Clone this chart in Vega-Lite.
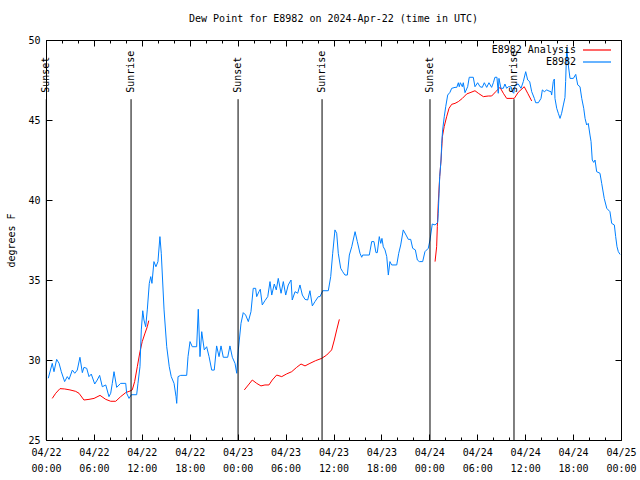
{
 "$schema": "https://vega.github.io/schema/vega-lite/v6.json",
 "width": 575,
 "height": 400,
 "autosize": "none",
 "padding": {"left": 46, "top": 40, "right": 19, "bottom": 40},
 "background": "white",
 "title": {"text": "Dew Point for E8982 on 2024-Apr-22 (time in UTC)", "font": "DejaVu Sans Mono", "fontSize": 10, "fontWeight": "normal", "offset": 11, "anchor": "middle", "color": "black"},
 "config": {
  "view": {"stroke": "black", "strokeWidth": 1},
  "axis": {"labelFont": "DejaVu Sans Mono", "labelFontSize": 10, "titleFont": "DejaVu Sans Mono", "titleFontSize": 10, "titleFontWeight": "normal", "labelColor": "black", "titleColor": "black", "tickColor": "black", "domainColor": "black", "grid": false, "domain": false}
 },
 "datasets": {
  "obs": [
   {"t":"2024-04-22T00:47:00Z","v":27.6,"series":"E8982 Analysis","seg":1},
   {"t":"2024-04-22T01:13:00Z","v":27.92,"series":"E8982 Analysis","seg":1},
   {"t":"2024-04-22T01:45:00Z","v":28.21,"series":"E8982 Analysis","seg":1},
   {"t":"2024-04-22T02:20:00Z","v":28.19,"series":"E8982 Analysis","seg":1},
   {"t":"2024-04-22T03:00:00Z","v":28.13,"series":"E8982 Analysis","seg":1},
   {"t":"2024-04-22T03:43:00Z","v":28.04,"series":"E8982 Analysis","seg":1},
   {"t":"2024-04-22T04:08:00Z","v":27.92,"series":"E8982 Analysis","seg":1},
   {"t":"2024-04-22T04:45:00Z","v":27.5,"series":"E8982 Analysis","seg":1},
   {"t":"2024-04-22T05:23:00Z","v":27.54,"series":"E8982 Analysis","seg":1},
   {"t":"2024-04-22T06:01:00Z","v":27.6,"series":"E8982 Analysis","seg":1},
   {"t":"2024-04-22T06:46:00Z","v":27.79,"series":"E8982 Analysis","seg":1},
   {"t":"2024-04-22T07:29:00Z","v":27.54,"series":"E8982 Analysis","seg":1},
   {"t":"2024-04-22T08:06:00Z","v":27.42,"series":"E8982 Analysis","seg":1},
   {"t":"2024-04-22T08:44:00Z","v":27.42,"series":"E8982 Analysis","seg":1},
   {"t":"2024-04-22T09:21:00Z","v":27.71,"series":"E8982 Analysis","seg":1},
   {"t":"2024-04-22T09:59:00Z","v":27.96,"series":"E8982 Analysis","seg":1},
   {"t":"2024-04-22T10:31:00Z","v":28.06,"series":"E8982 Analysis","seg":1},
   {"t":"2024-04-22T10:48:00Z","v":28.13,"series":"E8982 Analysis","seg":1},
   {"t":"2024-04-22T11:06:00Z","v":28.65,"series":"E8982 Analysis","seg":1},
   {"t":"2024-04-22T11:26:00Z","v":29.58,"series":"E8982 Analysis","seg":1},
   {"t":"2024-04-22T11:46:00Z","v":30.52,"series":"E8982 Analysis","seg":1},
   {"t":"2024-04-22T12:03:00Z","v":31.15,"series":"E8982 Analysis","seg":1},
   {"t":"2024-04-22T12:22:00Z","v":31.63,"series":"E8982 Analysis","seg":1},
   {"t":"2024-04-22T12:41:00Z","v":32.08,"series":"E8982 Analysis","seg":1},
   {"t":"2024-04-22T12:52:00Z","v":32.46,"series":"E8982 Analysis","seg":1},
   {"t":"2024-04-23T00:50:00Z","v":28.13,"series":"E8982 Analysis","seg":2},
   {"t":"2024-04-23T01:20:00Z","v":28.44,"series":"E8982 Analysis","seg":2},
   {"t":"2024-04-23T01:50:00Z","v":28.75,"series":"E8982 Analysis","seg":2},
   {"t":"2024-04-23T02:23:00Z","v":28.54,"series":"E8982 Analysis","seg":2},
   {"t":"2024-04-23T02:55:00Z","v":28.38,"series":"E8982 Analysis","seg":2},
   {"t":"2024-04-23T03:25:00Z","v":28.44,"series":"E8982 Analysis","seg":2},
   {"t":"2024-04-23T03:55:00Z","v":28.44,"series":"E8982 Analysis","seg":2},
   {"t":"2024-04-23T04:20:00Z","v":28.75,"series":"E8982 Analysis","seg":2},
   {"t":"2024-04-23T04:53:00Z","v":29.06,"series":"E8982 Analysis","seg":2},
   {"t":"2024-04-23T05:31:00Z","v":28.96,"series":"E8982 Analysis","seg":2},
   {"t":"2024-04-23T06:08:00Z","v":29.13,"series":"E8982 Analysis","seg":2},
   {"t":"2024-04-23T06:46:00Z","v":29.27,"series":"E8982 Analysis","seg":2},
   {"t":"2024-04-23T07:23:00Z","v":29.54,"series":"E8982 Analysis","seg":2},
   {"t":"2024-04-23T07:56:00Z","v":29.75,"series":"E8982 Analysis","seg":2},
   {"t":"2024-04-23T08:26:00Z","v":29.63,"series":"E8982 Analysis","seg":2},
   {"t":"2024-04-23T09:03:00Z","v":29.79,"series":"E8982 Analysis","seg":2},
   {"t":"2024-04-23T09:46:00Z","v":29.96,"series":"E8982 Analysis","seg":2},
   {"t":"2024-04-23T10:31:00Z","v":30.1,"series":"E8982 Analysis","seg":2},
   {"t":"2024-04-23T11:09:00Z","v":30.31,"series":"E8982 Analysis","seg":2},
   {"t":"2024-04-23T11:46:00Z","v":30.63,"series":"E8982 Analysis","seg":2},
   {"t":"2024-04-23T12:06:00Z","v":31.25,"series":"E8982 Analysis","seg":2},
   {"t":"2024-04-23T12:24:00Z","v":31.88,"series":"E8982 Analysis","seg":2},
   {"t":"2024-04-23T12:44:00Z","v":32.54,"series":"E8982 Analysis","seg":2},
   {"t":"2024-04-24T00:43:00Z","v":36.15,"series":"E8982 Analysis","seg":3},
   {"t":"2024-04-24T00:55:00Z","v":37.08,"series":"E8982 Analysis","seg":3},
   {"t":"2024-04-24T01:00:00Z","v":38.33,"series":"E8982 Analysis","seg":3},
   {"t":"2024-04-24T01:07:00Z","v":39.79,"series":"E8982 Analysis","seg":3},
   {"t":"2024-04-24T01:18:00Z","v":41.46,"series":"E8982 Analysis","seg":3},
   {"t":"2024-04-24T01:28:00Z","v":42.5,"series":"E8982 Analysis","seg":3},
   {"t":"2024-04-24T01:38:00Z","v":43.96,"series":"E8982 Analysis","seg":3},
   {"t":"2024-04-24T01:52:00Z","v":44.6,"series":"E8982 Analysis","seg":3},
   {"t":"2024-04-24T02:10:00Z","v":45.2,"series":"E8982 Analysis","seg":3},
   {"t":"2024-04-24T02:28:00Z","v":45.73,"series":"E8982 Analysis","seg":3},
   {"t":"2024-04-24T02:48:00Z","v":45.98,"series":"E8982 Analysis","seg":3},
   {"t":"2024-04-24T03:13:00Z","v":46.04,"series":"E8982 Analysis","seg":3},
   {"t":"2024-04-24T03:38:00Z","v":46.15,"series":"E8982 Analysis","seg":3},
   {"t":"2024-04-24T04:08:00Z","v":46.35,"series":"E8982 Analysis","seg":3},
   {"t":"2024-04-24T04:41:00Z","v":46.63,"series":"E8982 Analysis","seg":3},
   {"t":"2024-04-24T05:13:00Z","v":46.73,"series":"E8982 Analysis","seg":3},
   {"t":"2024-04-24T05:43:00Z","v":46.83,"series":"E8982 Analysis","seg":3},
   {"t":"2024-04-24T06:08:00Z","v":46.67,"series":"E8982 Analysis","seg":3},
   {"t":"2024-04-24T06:46:00Z","v":46.46,"series":"E8982 Analysis","seg":3},
   {"t":"2024-04-24T07:23:00Z","v":46.5,"series":"E8982 Analysis","seg":3},
   {"t":"2024-04-24T07:48:00Z","v":46.5,"series":"E8982 Analysis","seg":3},
   {"t":"2024-04-24T08:19:00Z","v":46.77,"series":"E8982 Analysis","seg":3},
   {"t":"2024-04-24T08:51:00Z","v":47.04,"series":"E8982 Analysis","seg":3},
   {"t":"2024-04-24T09:16:00Z","v":46.67,"series":"E8982 Analysis","seg":3},
   {"t":"2024-04-24T09:41:00Z","v":46.35,"series":"E8982 Analysis","seg":3},
   {"t":"2024-04-24T10:23:00Z","v":46.35,"series":"E8982 Analysis","seg":3},
   {"t":"2024-04-24T10:38:00Z","v":46.35,"series":"E8982 Analysis","seg":3},
   {"t":"2024-04-24T11:08:00Z","v":46.73,"series":"E8982 Analysis","seg":3},
   {"t":"2024-04-24T11:53:00Z","v":47.08,"series":"E8982 Analysis","seg":3},
   {"t":"2024-04-24T12:19:00Z","v":46.67,"series":"E8982 Analysis","seg":3},
   {"t":"2024-04-24T12:49:00Z","v":46.19,"series":"E8982 Analysis","seg":3},
   {"t":"2024-04-22T00:17:00Z","v":28.86,"series":"E8982","seg":0},
   {"t":"2024-04-22T00:47:00Z","v":29.79,"series":"E8982","seg":0},
   {"t":"2024-04-22T01:00:00Z","v":29.27,"series":"E8982","seg":0},
   {"t":"2024-04-22T01:20:00Z","v":30.04,"series":"E8982","seg":0},
   {"t":"2024-04-22T01:38:00Z","v":29.8,"series":"E8982","seg":0},
   {"t":"2024-04-22T01:55:00Z","v":29.27,"series":"E8982","seg":0},
   {"t":"2024-04-22T02:20:00Z","v":28.65,"series":"E8982","seg":0},
   {"t":"2024-04-22T02:40:00Z","v":28.96,"series":"E8982","seg":0},
   {"t":"2024-04-22T02:53:00Z","v":28.79,"series":"E8982","seg":0},
   {"t":"2024-04-22T03:18:00Z","v":29.37,"series":"E8982","seg":0},
   {"t":"2024-04-22T03:36:00Z","v":29.17,"series":"E8982","seg":0},
   {"t":"2024-04-22T03:55:00Z","v":29.37,"series":"E8982","seg":0},
   {"t":"2024-04-22T04:15:00Z","v":30.17,"series":"E8982","seg":0},
   {"t":"2024-04-22T04:33:00Z","v":29.21,"series":"E8982","seg":0},
   {"t":"2024-04-22T04:45:00Z","v":29.54,"series":"E8982","seg":0},
   {"t":"2024-04-22T05:06:00Z","v":29.48,"series":"E8982","seg":0},
   {"t":"2024-04-22T05:23:00Z","v":28.96,"series":"E8982","seg":0},
   {"t":"2024-04-22T05:40:00Z","v":29.12,"series":"E8982","seg":0},
   {"t":"2024-04-22T06:06:00Z","v":28.5,"series":"E8982","seg":0},
   {"t":"2024-04-22T06:25:00Z","v":28.75,"series":"E8982","seg":0},
   {"t":"2024-04-22T06:43:00Z","v":29.04,"series":"E8982","seg":0},
   {"t":"2024-04-22T07:03:00Z","v":28.33,"series":"E8982","seg":0},
   {"t":"2024-04-22T07:29:00Z","v":28.44,"series":"E8982","seg":0},
   {"t":"2024-04-22T07:53:00Z","v":27.71,"series":"E8982","seg":0},
   {"t":"2024-04-22T08:06:00Z","v":27.92,"series":"E8982","seg":0},
   {"t":"2024-04-22T08:18:00Z","v":28.54,"series":"E8982","seg":0},
   {"t":"2024-04-22T08:31:00Z","v":29.27,"series":"E8982","seg":0},
   {"t":"2024-04-22T08:51:00Z","v":28.29,"series":"E8982","seg":0},
   {"t":"2024-04-22T09:21:00Z","v":28.54,"series":"E8982","seg":0},
   {"t":"2024-04-22T09:59:00Z","v":28.54,"series":"E8982","seg":0},
   {"t":"2024-04-22T10:06:00Z","v":27.92,"series":"E8982","seg":0},
   {"t":"2024-04-22T10:24:00Z","v":27.6,"series":"E8982","seg":0},
   {"t":"2024-04-22T10:41:00Z","v":27.83,"series":"E8982","seg":0},
   {"t":"2024-04-22T11:21:00Z","v":27.83,"series":"E8982","seg":0},
   {"t":"2024-04-22T11:31:00Z","v":28.54,"series":"E8982","seg":0},
   {"t":"2024-04-22T11:46:00Z","v":29.58,"series":"E8982","seg":0},
   {"t":"2024-04-22T11:56:00Z","v":31.88,"series":"E8982","seg":0},
   {"t":"2024-04-22T12:07:00Z","v":33.08,"series":"E8982","seg":0},
   {"t":"2024-04-22T12:16:00Z","v":32.5,"series":"E8982","seg":0},
   {"t":"2024-04-22T12:29:00Z","v":32.08,"series":"E8982","seg":0},
   {"t":"2024-04-22T12:41:00Z","v":33.13,"series":"E8982","seg":0},
   {"t":"2024-04-22T12:56:00Z","v":34.79,"series":"E8982","seg":0},
   {"t":"2024-04-22T13:07:00Z","v":35.21,"series":"E8982","seg":0},
   {"t":"2024-04-22T13:16:00Z","v":34.79,"series":"E8982","seg":0},
   {"t":"2024-04-22T13:31:00Z","v":36.15,"series":"E8982","seg":0},
   {"t":"2024-04-22T13:46:00Z","v":35.83,"series":"E8982","seg":0},
   {"t":"2024-04-22T14:01:00Z","v":36.15,"series":"E8982","seg":0},
   {"t":"2024-04-22T14:16:00Z","v":37.71,"series":"E8982","seg":0},
   {"t":"2024-04-22T14:26:00Z","v":36.67,"series":"E8982","seg":0},
   {"t":"2024-04-22T14:47:00Z","v":33.13,"series":"E8982","seg":0},
   {"t":"2024-04-22T15:07:00Z","v":30.83,"series":"E8982","seg":0},
   {"t":"2024-04-22T15:26:00Z","v":29.58,"series":"E8982","seg":0},
   {"t":"2024-04-22T15:41:00Z","v":28.96,"series":"E8982","seg":0},
   {"t":"2024-04-22T16:02:00Z","v":28.54,"series":"E8982","seg":0},
   {"t":"2024-04-22T16:17:00Z","v":27.71,"series":"E8982","seg":0},
   {"t":"2024-04-22T16:22:00Z","v":27.29,"series":"E8982","seg":0},
   {"t":"2024-04-22T16:32:00Z","v":28.96,"series":"E8982","seg":0},
   {"t":"2024-04-22T16:52:00Z","v":29.04,"series":"E8982","seg":0},
   {"t":"2024-04-22T17:37:00Z","v":29.04,"series":"E8982","seg":0},
   {"t":"2024-04-22T17:47:00Z","v":30.21,"series":"E8982","seg":0},
   {"t":"2024-04-22T18:02:00Z","v":31.15,"series":"E8982","seg":0},
   {"t":"2024-04-22T18:19:00Z","v":30.83,"series":"E8982","seg":0},
   {"t":"2024-04-22T18:52:00Z","v":30.83,"series":"E8982","seg":0},
   {"t":"2024-04-22T19:04:00Z","v":33.17,"series":"E8982","seg":0},
   {"t":"2024-04-22T19:17:00Z","v":30.21,"series":"E8982","seg":0},
   {"t":"2024-04-22T19:30:00Z","v":31.77,"series":"E8982","seg":0},
   {"t":"2024-04-22T19:49:00Z","v":30.63,"series":"E8982","seg":0},
   {"t":"2024-04-22T20:07:00Z","v":30.83,"series":"E8982","seg":0},
   {"t":"2024-04-22T20:25:00Z","v":30.21,"series":"E8982","seg":0},
   {"t":"2024-04-22T20:45:00Z","v":29.37,"series":"E8982","seg":0},
   {"t":"2024-04-22T21:04:00Z","v":29.37,"series":"E8982","seg":0},
   {"t":"2024-04-22T21:22:00Z","v":30.88,"series":"E8982","seg":0},
   {"t":"2024-04-22T21:40:00Z","v":30.21,"series":"E8982","seg":0},
   {"t":"2024-04-22T21:55:00Z","v":30.88,"series":"E8982","seg":0},
   {"t":"2024-04-22T22:12:00Z","v":30.17,"series":"E8982","seg":0},
   {"t":"2024-04-22T22:45:00Z","v":30.17,"series":"E8982","seg":0},
   {"t":"2024-04-22T23:02:00Z","v":30.88,"series":"E8982","seg":0},
   {"t":"2024-04-22T23:20:00Z","v":30.17,"series":"E8982","seg":0},
   {"t":"2024-04-22T23:40:00Z","v":29.79,"series":"E8982","seg":0},
   {"t":"2024-04-22T23:53:00Z","v":29.17,"series":"E8982","seg":0},
   {"t":"2024-04-23T00:05:00Z","v":30.63,"series":"E8982","seg":0},
   {"t":"2024-04-23T00:25:00Z","v":32.29,"series":"E8982","seg":0},
   {"t":"2024-04-23T00:42:00Z","v":32.96,"series":"E8982","seg":0},
   {"t":"2024-04-23T01:00:00Z","v":32.81,"series":"E8982","seg":0},
   {"t":"2024-04-23T01:20:00Z","v":32.4,"series":"E8982","seg":0},
   {"t":"2024-04-23T01:40:00Z","v":33.02,"series":"E8982","seg":0},
   {"t":"2024-04-23T01:57:00Z","v":34.48,"series":"E8982","seg":0},
   {"t":"2024-04-23T02:15:00Z","v":34.48,"series":"E8982","seg":0},
   {"t":"2024-04-23T02:23:00Z","v":33.96,"series":"E8982","seg":0},
   {"t":"2024-04-23T02:40:00Z","v":34.27,"series":"E8982","seg":0},
   {"t":"2024-04-23T02:50:00Z","v":34.42,"series":"E8982","seg":0},
   {"t":"2024-04-23T03:05:00Z","v":33.44,"series":"E8982","seg":0},
   {"t":"2024-04-23T03:25:00Z","v":33.71,"series":"E8982","seg":0},
   {"t":"2024-04-23T03:46:00Z","v":33.96,"series":"E8982","seg":0},
   {"t":"2024-04-23T04:03:00Z","v":34.9,"series":"E8982","seg":0},
   {"t":"2024-04-23T04:16:00Z","v":34.06,"series":"E8982","seg":0},
   {"t":"2024-04-23T04:35:00Z","v":34.75,"series":"E8982","seg":0},
   {"t":"2024-04-23T04:50:00Z","v":34.38,"series":"E8982","seg":0},
   {"t":"2024-04-23T05:05:00Z","v":35.1,"series":"E8982","seg":0},
   {"t":"2024-04-23T05:26:00Z","v":34.17,"series":"E8982","seg":0},
   {"t":"2024-04-23T05:43:00Z","v":34.9,"series":"E8982","seg":0},
   {"t":"2024-04-23T06:01:00Z","v":34.06,"series":"E8982","seg":0},
   {"t":"2024-04-23T06:20:00Z","v":34.69,"series":"E8982","seg":0},
   {"t":"2024-04-23T06:41:00Z","v":35.0,"series":"E8982","seg":0},
   {"t":"2024-04-23T06:50:00Z","v":33.75,"series":"E8982","seg":0},
   {"t":"2024-04-23T07:11:00Z","v":34.27,"series":"E8982","seg":0},
   {"t":"2024-04-23T07:31:00Z","v":34.17,"series":"E8982","seg":0},
   {"t":"2024-04-23T07:48:00Z","v":34.69,"series":"E8982","seg":0},
   {"t":"2024-04-23T08:06:00Z","v":34.06,"series":"E8982","seg":0},
   {"t":"2024-04-23T08:26:00Z","v":33.79,"series":"E8982","seg":0},
   {"t":"2024-04-23T08:46:00Z","v":33.75,"series":"E8982","seg":0},
   {"t":"2024-04-23T09:03:00Z","v":34.33,"series":"E8982","seg":0},
   {"t":"2024-04-23T09:21:00Z","v":33.38,"series":"E8982","seg":0},
   {"t":"2024-04-23T09:41:00Z","v":33.65,"series":"E8982","seg":0},
   {"t":"2024-04-23T10:06:00Z","v":33.96,"series":"E8982","seg":0},
   {"t":"2024-04-23T10:19:00Z","v":33.96,"series":"E8982","seg":0},
   {"t":"2024-04-23T10:39:00Z","v":34.33,"series":"E8982","seg":0},
   {"t":"2024-04-23T11:21:00Z","v":34.33,"series":"E8982","seg":0},
   {"t":"2024-04-23T11:39:00Z","v":35.21,"series":"E8982","seg":0},
   {"t":"2024-04-23T11:54:00Z","v":36.67,"series":"E8982","seg":0},
   {"t":"2024-04-23T12:11:00Z","v":38.13,"series":"E8982","seg":0},
   {"t":"2024-04-23T12:24:00Z","v":37.92,"series":"E8982","seg":0},
   {"t":"2024-04-23T12:36:00Z","v":36.67,"series":"E8982","seg":0},
   {"t":"2024-04-23T12:54:00Z","v":35.73,"series":"E8982","seg":0},
   {"t":"2024-04-23T13:09:00Z","v":35.52,"series":"E8982","seg":0},
   {"t":"2024-04-23T13:26:00Z","v":35.31,"series":"E8982","seg":0},
   {"t":"2024-04-23T13:44:00Z","v":35.31,"series":"E8982","seg":0},
   {"t":"2024-04-23T13:59:00Z","v":36.56,"series":"E8982","seg":0},
   {"t":"2024-04-23T14:17:00Z","v":37.08,"series":"E8982","seg":0},
   {"t":"2024-04-23T14:42:00Z","v":38.02,"series":"E8982","seg":0},
   {"t":"2024-04-23T14:59:00Z","v":37.4,"series":"E8982","seg":0},
   {"t":"2024-04-23T15:19:00Z","v":36.67,"series":"E8982","seg":0},
   {"t":"2024-04-23T15:32:00Z","v":36.42,"series":"E8982","seg":0},
   {"t":"2024-04-23T15:39:00Z","v":36.56,"series":"E8982","seg":0},
   {"t":"2024-04-23T16:29:00Z","v":36.56,"series":"E8982","seg":0},
   {"t":"2024-04-23T16:47:00Z","v":37.4,"series":"E8982","seg":0},
   {"t":"2024-04-23T17:04:00Z","v":37.4,"series":"E8982","seg":0},
   {"t":"2024-04-23T17:19:00Z","v":36.71,"series":"E8982","seg":0},
   {"t":"2024-04-23T17:29:00Z","v":36.71,"series":"E8982","seg":0},
   {"t":"2024-04-23T17:44:00Z","v":37.71,"series":"E8982","seg":0},
   {"t":"2024-04-23T17:55:00Z","v":37.29,"series":"E8982","seg":0},
   {"t":"2024-04-23T18:04:00Z","v":37.6,"series":"E8982","seg":0},
   {"t":"2024-04-23T18:14:00Z","v":37.08,"series":"E8982","seg":0},
   {"t":"2024-04-23T18:27:00Z","v":36.88,"series":"E8982","seg":0},
   {"t":"2024-04-23T18:40:00Z","v":36.46,"series":"E8982","seg":0},
   {"t":"2024-04-23T18:52:00Z","v":35.31,"series":"E8982","seg":0},
   {"t":"2024-04-23T19:04:00Z","v":36.15,"series":"E8982","seg":0},
   {"t":"2024-04-23T19:17:00Z","v":35.94,"series":"E8982","seg":0},
   {"t":"2024-04-23T19:55:00Z","v":35.94,"series":"E8982","seg":0},
   {"t":"2024-04-23T20:10:00Z","v":36.67,"series":"E8982","seg":0},
   {"t":"2024-04-23T20:25:00Z","v":37.19,"series":"E8982","seg":0},
   {"t":"2024-04-23T20:44:00Z","v":38.13,"series":"E8982","seg":0},
   {"t":"2024-04-23T21:05:00Z","v":37.81,"series":"E8982","seg":0},
   {"t":"2024-04-23T21:22:00Z","v":37.54,"series":"E8982","seg":0},
   {"t":"2024-04-23T21:40:00Z","v":37.54,"series":"E8982","seg":0},
   {"t":"2024-04-23T21:55:00Z","v":36.98,"series":"E8982","seg":0},
   {"t":"2024-04-23T22:15:00Z","v":36.88,"series":"E8982","seg":0},
   {"t":"2024-04-23T22:30:00Z","v":36.25,"series":"E8982","seg":0},
   {"t":"2024-04-23T22:45:00Z","v":36.15,"series":"E8982","seg":0},
   {"t":"2024-04-23T23:10:00Z","v":36.15,"series":"E8982","seg":0},
   {"t":"2024-04-23T23:27:00Z","v":36.77,"series":"E8982","seg":0},
   {"t":"2024-04-23T23:52:00Z","v":36.98,"series":"E8982","seg":0},
   {"t":"2024-04-24T00:05:00Z","v":37.5,"series":"E8982","seg":0},
   {"t":"2024-04-24T00:22:00Z","v":38.5,"series":"E8982","seg":0},
   {"t":"2024-04-24T00:43:00Z","v":38.44,"series":"E8982","seg":0},
   {"t":"2024-04-24T01:03:00Z","v":38.6,"series":"E8982","seg":0},
   {"t":"2024-04-24T01:07:00Z","v":39.17,"series":"E8982","seg":0},
   {"t":"2024-04-24T01:13:00Z","v":40.42,"series":"E8982","seg":0},
   {"t":"2024-04-24T01:18:00Z","v":41.46,"series":"E8982","seg":0},
   {"t":"2024-04-24T01:28:00Z","v":42.5,"series":"E8982","seg":0},
   {"t":"2024-04-24T01:33:00Z","v":43.54,"series":"E8982","seg":0},
   {"t":"2024-04-24T01:40:00Z","v":44.38,"series":"E8982","seg":0},
   {"t":"2024-04-24T01:52:00Z","v":45.2,"series":"E8982","seg":0},
   {"t":"2024-04-24T02:03:00Z","v":45.83,"series":"E8982","seg":0},
   {"t":"2024-04-24T02:18:00Z","v":46.56,"series":"E8982","seg":0},
   {"t":"2024-04-24T02:35:00Z","v":46.73,"series":"E8982","seg":0},
   {"t":"2024-04-24T02:48:00Z","v":46.98,"series":"E8982","seg":0},
   {"t":"2024-04-24T03:13:00Z","v":47.04,"series":"E8982","seg":0},
   {"t":"2024-04-24T03:26:00Z","v":47.04,"series":"E8982","seg":0},
   {"t":"2024-04-24T03:38:00Z","v":47.33,"series":"E8982","seg":0},
   {"t":"2024-04-24T03:45:00Z","v":47.08,"series":"E8982","seg":0},
   {"t":"2024-04-24T03:53:00Z","v":47.33,"series":"E8982","seg":0},
   {"t":"2024-04-24T04:08:00Z","v":47.08,"series":"E8982","seg":0},
   {"t":"2024-04-24T04:15:00Z","v":47.33,"series":"E8982","seg":0},
   {"t":"2024-04-24T04:28:00Z","v":46.71,"series":"E8982","seg":0},
   {"t":"2024-04-24T04:48:00Z","v":47.08,"series":"E8982","seg":0},
   {"t":"2024-04-24T05:00:00Z","v":47.67,"series":"E8982","seg":0},
   {"t":"2024-04-24T05:30:00Z","v":47.67,"series":"E8982","seg":0},
   {"t":"2024-04-24T05:43:00Z","v":47.08,"series":"E8982","seg":0},
   {"t":"2024-04-24T06:03:00Z","v":47.33,"series":"E8982","seg":0},
   {"t":"2024-04-24T06:21:00Z","v":47.08,"series":"E8982","seg":0},
   {"t":"2024-04-24T06:38:00Z","v":47.04,"series":"E8982","seg":0},
   {"t":"2024-04-24T06:53:00Z","v":47.33,"series":"E8982","seg":0},
   {"t":"2024-04-24T07:11:00Z","v":47.04,"series":"E8982","seg":0},
   {"t":"2024-04-24T07:28:00Z","v":47.33,"series":"E8982","seg":0},
   {"t":"2024-04-24T07:48:00Z","v":47.04,"series":"E8982","seg":0},
   {"t":"2024-04-24T08:01:00Z","v":47.33,"series":"E8982","seg":0},
   {"t":"2024-04-24T08:13:00Z","v":47.67,"series":"E8982","seg":0},
   {"t":"2024-04-24T08:28:00Z","v":47.67,"series":"E8982","seg":0},
   {"t":"2024-04-24T08:38:00Z","v":46.67,"series":"E8982","seg":0},
   {"t":"2024-04-24T08:43:00Z","v":47.6,"series":"E8982","seg":0},
   {"t":"2024-04-24T08:58:00Z","v":46.98,"series":"E8982","seg":0},
   {"t":"2024-04-24T09:16:00Z","v":46.98,"series":"E8982","seg":0},
   {"t":"2024-04-24T09:28:00Z","v":47.25,"series":"E8982","seg":0},
   {"t":"2024-04-24T09:41:00Z","v":46.98,"series":"E8982","seg":0},
   {"t":"2024-04-24T09:53:00Z","v":47.08,"series":"E8982","seg":0},
   {"t":"2024-04-24T10:14:00Z","v":47.08,"series":"E8982","seg":0},
   {"t":"2024-04-24T10:23:00Z","v":46.77,"series":"E8982","seg":0},
   {"t":"2024-04-24T10:34:00Z","v":46.67,"series":"E8982","seg":0},
   {"t":"2024-04-24T10:44:00Z","v":47.19,"series":"E8982","seg":0},
   {"t":"2024-04-24T11:08:00Z","v":47.25,"series":"E8982","seg":0},
   {"t":"2024-04-24T11:29:00Z","v":46.98,"series":"E8982","seg":0},
   {"t":"2024-04-24T11:46:00Z","v":47.4,"series":"E8982","seg":0},
   {"t":"2024-04-24T12:04:00Z","v":48.02,"series":"E8982","seg":0},
   {"t":"2024-04-24T12:19:00Z","v":47.5,"series":"E8982","seg":0},
   {"t":"2024-04-24T12:34:00Z","v":47.4,"series":"E8982","seg":0},
   {"t":"2024-04-24T12:49:00Z","v":46.77,"series":"E8982","seg":0},
   {"t":"2024-04-24T13:09:00Z","v":46.35,"series":"E8982","seg":0},
   {"t":"2024-04-24T13:19:00Z","v":46.08,"series":"E8982","seg":0},
   {"t":"2024-04-24T13:39:00Z","v":46.08,"series":"E8982","seg":0},
   {"t":"2024-04-24T13:59:00Z","v":46.35,"series":"E8982","seg":0},
   {"t":"2024-04-24T14:09:00Z","v":46.88,"series":"E8982","seg":0},
   {"t":"2024-04-24T14:24:00Z","v":46.77,"series":"E8982","seg":0},
   {"t":"2024-04-24T14:42:00Z","v":46.88,"series":"E8982","seg":0},
   {"t":"2024-04-24T14:59:00Z","v":46.81,"series":"E8982","seg":0},
   {"t":"2024-04-24T15:14:00Z","v":46.77,"series":"E8982","seg":0},
   {"t":"2024-04-24T15:19:00Z","v":46.56,"series":"E8982","seg":0},
   {"t":"2024-04-24T15:31:00Z","v":47.4,"series":"E8982","seg":0},
   {"t":"2024-04-24T15:39:00Z","v":47.56,"series":"E8982","seg":0},
   {"t":"2024-04-24T15:44:00Z","v":46.35,"series":"E8982","seg":0},
   {"t":"2024-04-24T15:57:00Z","v":45.73,"series":"E8982","seg":0},
   {"t":"2024-04-24T16:09:00Z","v":45.42,"series":"E8982","seg":0},
   {"t":"2024-04-24T16:22:00Z","v":45.1,"series":"E8982","seg":0},
   {"t":"2024-04-24T16:34:00Z","v":45.42,"series":"E8982","seg":0},
   {"t":"2024-04-24T16:47:00Z","v":45.94,"series":"E8982","seg":0},
   {"t":"2024-04-24T16:59:00Z","v":46.4,"series":"E8982","seg":0},
   {"t":"2024-04-24T17:04:00Z","v":47.4,"series":"E8982","seg":0},
   {"t":"2024-04-24T17:12:00Z","v":49.5,"series":"E8982","seg":0},
   {"t":"2024-04-24T17:24:00Z","v":48.44,"series":"E8982","seg":0},
   {"t":"2024-04-24T17:37:00Z","v":47.6,"series":"E8982","seg":0},
   {"t":"2024-04-24T18:02:00Z","v":47.6,"series":"E8982","seg":0},
   {"t":"2024-04-24T18:20:00Z","v":47.85,"series":"E8982","seg":0},
   {"t":"2024-04-24T18:35:00Z","v":47.19,"series":"E8982","seg":0},
   {"t":"2024-04-24T18:52:00Z","v":47.08,"series":"E8982","seg":0},
   {"t":"2024-04-24T19:05:00Z","v":46.35,"series":"E8982","seg":0},
   {"t":"2024-04-24T19:20:00Z","v":45.73,"series":"E8982","seg":0},
   {"t":"2024-04-24T19:30:00Z","v":45.1,"series":"E8982","seg":0},
   {"t":"2024-04-24T19:42:00Z","v":44.69,"series":"E8982","seg":0},
   {"t":"2024-04-24T19:54:00Z","v":44.79,"series":"E8982","seg":0},
   {"t":"2024-04-24T20:07:00Z","v":44.06,"series":"E8982","seg":0},
   {"t":"2024-04-24T20:15:00Z","v":43.65,"series":"E8982","seg":0},
   {"t":"2024-04-24T20:24:00Z","v":42.5,"series":"E8982","seg":0},
   {"t":"2024-04-24T20:35:00Z","v":42.35,"series":"E8982","seg":0},
   {"t":"2024-04-24T20:45:00Z","v":42.5,"series":"E8982","seg":0},
   {"t":"2024-04-24T20:57:00Z","v":41.77,"series":"E8982","seg":0},
   {"t":"2024-04-24T21:22:00Z","v":41.67,"series":"E8982","seg":0},
   {"t":"2024-04-24T21:35:00Z","v":41.04,"series":"E8982","seg":0},
   {"t":"2024-04-24T21:54:00Z","v":40.1,"series":"E8982","seg":0},
   {"t":"2024-04-24T22:13:00Z","v":39.48,"series":"E8982","seg":0},
   {"t":"2024-04-24T22:37:00Z","v":39.27,"series":"E8982","seg":0},
   {"t":"2024-04-24T22:50:00Z","v":38.54,"series":"E8982","seg":0},
   {"t":"2024-04-24T23:10:00Z","v":38.44,"series":"E8982","seg":0},
   {"t":"2024-04-24T23:20:00Z","v":37.71,"series":"E8982","seg":0},
   {"t":"2024-04-24T23:30:00Z","v":37.08,"series":"E8982","seg":0},
   {"t":"2024-04-24T23:40:00Z","v":36.77,"series":"E8982","seg":0},
   {"t":"2024-04-24T23:53:00Z","v":36.6,"series":"E8982","seg":0}
  ],
  "events": [
   {"t":"2024-04-22T00:02:00Z","label":"Sunset"},
   {"t":"2024-04-22T10:39:00Z","label":"Sunrise"},
   {"t":"2024-04-23T00:03:00Z","label":"Sunset"},
   {"t":"2024-04-23T10:34:00Z","label":"Sunrise"},
   {"t":"2024-04-24T00:05:00Z","label":"Sunset"},
   {"t":"2024-04-24T10:36:00Z","label":"Sunrise"}
  ]
 },
 "layer": [
  {
   "data": {"name": "obs"},
   "mark": {"type": "line", "strokeWidth": 1, "clip": true},
   "encoding": {
    "x": {"field": "t", "type": "temporal", "scale": {"type": "utc", "domain": [1713744000000, 1714003200000]},
     "axis": {"orient": "bottom", "title": null, "values": [1713744000000, 1713765600000, 1713787200000, 1713808800000, 1713830400000, 1713852000000, 1713873600000, 1713895200000, 1713916800000, 1713938400000, 1713960000000, 1713981600000, 1714003200000],
      "labelExpr": "[utcFormat(datum.value, '%m/%d'), utcFormat(datum.value, '%H:%M')]", "tickSize": -6, "labelPadding": 13, "labelLineHeight": 16, "labelAngle": 0, "labelOverlap": false, "labelFlush": false, "labelBaseline": "top"}},
    "y": {"field": "v", "type": "quantitative", "scale": {"domain": [25, 50], "nice": false, "zero": false},
     "axis": {"orient": "left", "title": "degrees F", "values": [25, 30, 35, 40, 45, 50], "tickSize": -6, "labelPadding": 12, "titlePadding": 11}},
    "color": {"field": "series", "type": "nominal", "scale": {"domain": ["E8982 Analysis", "E8982"], "range": ["#ff0000", "#0080ff"]},
     "legend": {"orient": "none", "legendX": 545, "legendY": 4, "title": null, "padding": 0, "symbolType": "M-2.8,0L2.8,0", "symbolSize": 100, "symbolStrokeWidth": 1.2, "labelAlign": "right", "labelOffset": -27, "labelFont": "DejaVu Sans Mono", "labelFontSize": 10, "labelColor": "black", "rowPadding": 1, "labelLimit": 300}},
    "detail": {"field": "seg", "type": "nominal"}
   }
  },
  {
   "data": {"name": "events"},
   "mark": {"type": "rule", "color": "black", "strokeWidth": 1},
   "encoding": {
    "x": {"field": "t", "type": "temporal",
     "axis": {"orient": "top", "title": null, "labels": false, "values": [1713744000000, 1713765600000, 1713787200000, 1713808800000, 1713830400000, 1713852000000, 1713873600000, 1713895200000, 1713916800000, 1713938400000, 1713960000000, 1713981600000, 1714003200000], "tickSize": -6}},
    "y": {"datum": 46.3, "type": "quantitative", "axis": {"orient": "right", "title": null, "labels": false, "values": [25, 30, 35, 40, 45, 50], "tickSize": -6}},
    "y2": {"datum": 25}
   }
  },
  {
   "data": {"name": "events"},
   "mark": {"type": "text", "angle": 270, "align": "left", "baseline": "middle", "font": "DejaVu Sans Mono", "fontSize": 10, "color": "black"},
   "encoding": {
    "x": {"field": "t", "type": "temporal",
     "axis": {"orient": "bottom", "title": null, "labels": false, "values": [1713744000000, 1713751200000, 1713758400000, 1713765600000, 1713772800000, 1713780000000, 1713787200000, 1713794400000, 1713801600000, 1713808800000, 1713816000000, 1713823200000, 1713830400000, 1713837600000, 1713844800000, 1713852000000, 1713859200000, 1713866400000, 1713873600000, 1713880800000, 1713888000000, 1713895200000, 1713902400000, 1713909600000, 1713916800000, 1713924000000, 1713931200000, 1713938400000, 1713945600000, 1713952800000, 1713960000000, 1713967200000, 1713974400000, 1713981600000, 1713988800000, 1713996000000, 1714003200000], "tickSize": -3}},
    "y": {"datum": 46.7, "type": "quantitative", "axis": null},
    "text": {"field": "label", "type": "nominal"}
   }
  },
  {
   "data": {"name": "events"},
   "mark": {"type": "rule", "opacity": 0},
   "encoding": {
    "x": {"field": "t", "type": "temporal",
     "axis": {"orient": "top", "title": null, "labels": false, "values": [1713744000000, 1713751200000, 1713758400000, 1713765600000, 1713772800000, 1713780000000, 1713787200000, 1713794400000, 1713801600000, 1713808800000, 1713816000000, 1713823200000, 1713830400000, 1713837600000, 1713844800000, 1713852000000, 1713859200000, 1713866400000, 1713873600000, 1713880800000, 1713888000000, 1713895200000, 1713902400000, 1713909600000, 1713916800000, 1713924000000, 1713931200000, 1713938400000, 1713945600000, 1713952800000, 1713960000000, 1713967200000, 1713974400000, 1713981600000, 1713988800000, 1713996000000, 1714003200000], "tickSize": -3}},
    "y": {"datum": 25, "type": "quantitative", "axis": null}
   }
  }
 ],
 "resolve": {"axis": {"x": "independent", "y": "independent"}}
}
